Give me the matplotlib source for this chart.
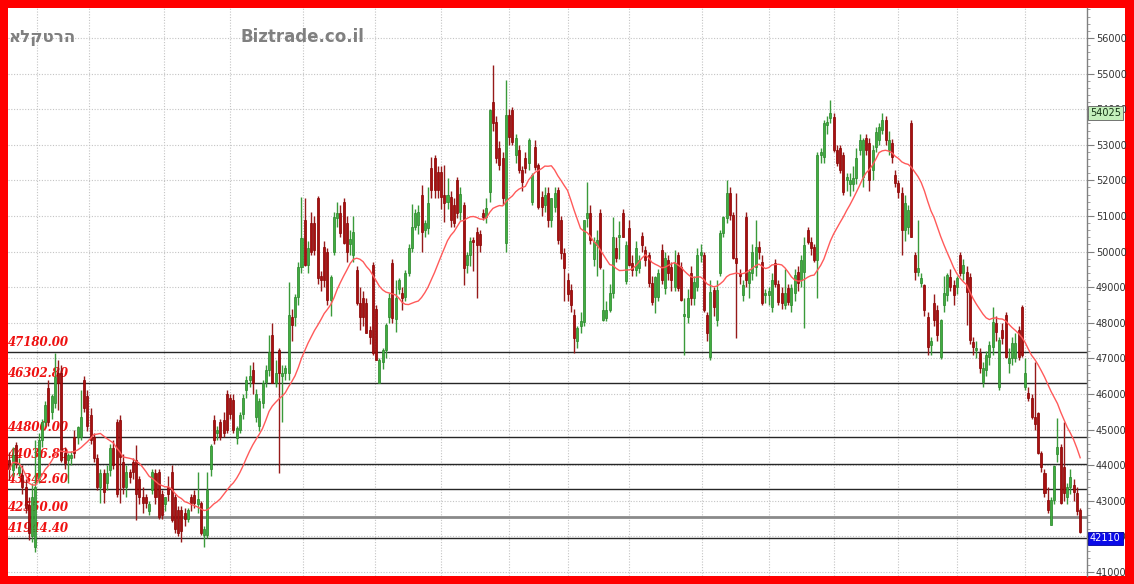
import numpy as np
import pandas as pd
import matplotlib
matplotlib.use('Agg')
import matplotlib.pyplot as plt
from matplotlib.patches import Rectangle
from matplotlib.ticker import MultipleLocator, FixedLocator

# ---------------- data ----------------
opens = [44140, 43870, 44570, 43780, 43720, 43390, 42880, 42000, 41700, 43600,
         44700, 45200, 46170, 45500, 45750, 46600, 46600, 44340, 44150, 44200,
         44780, 44780, 44800, 46400, 45950, 45400, 44780, 44200, 43390, 43780,
         43500, 43870, 44480, 45200, 45270, 44100, 43400, 43800, 44080, 44140,
         43600, 43100, 43100, 42700, 43300, 43780, 43800, 43200, 42900, 43400,
         43800, 43100, 42740, 42740, 42650, 42500, 43100, 43150, 42900, 42930,
         42050, 42050, 43900, 45270, 44900, 45200, 45270, 46000, 45900, 45830,
         44750, 45000, 45450, 46100, 46400, 46670, 45350, 45100, 45750, 46350,
         46670, 47650, 46300, 47230, 46500, 46600, 46600, 48160, 48160, 48720,
         49560, 50880, 49620, 50800, 50800, 51500, 49300, 50130, 49990, 48640,
         50000, 50940, 51080, 51400, 50800, 50200, 49900, 49480, 48550, 48700,
         48560, 47800, 49620, 48400, 46300, 46900, 47230, 48150, 49680, 48100,
         48950, 48830, 48720, 49400, 50100, 50700, 50750, 51600, 50600, 50660,
         52350, 52640, 52230, 52230, 51600, 51400, 51530, 51300, 52000, 51100,
         51300, 49630, 49910, 50330, 50540, 50500, 51080, 50970, 51670, 54200,
         53640, 52900, 52640, 50240, 53840, 53970, 52700, 52850, 52290, 52630,
         52490, 51400, 52940, 52430, 51530, 51300, 51650, 50900, 51250, 51730,
         50890, 49960, 49200, 48920, 48220, 47500, 47900, 48030, 50950, 51080,
         49780, 50180, 51080, 48080, 48130, 48360, 48850, 50100, 50400, 51080,
         49180, 50660, 49680, 49480, 49550, 50450, 50040, 49900, 49120, 48720,
         48720, 50040, 48980, 49760, 49570, 49000, 49900, 49570, 48200, 48160,
         49400, 48700, 49000, 49900, 49900, 48220, 47040, 48920, 48080, 49400,
         50520, 50950, 51640, 51030, 49820, 49400, 48780, 50970, 49120, 49400,
         49560, 50130, 49710, 48780, 48780, 48430, 49680, 49100, 48830, 48500,
         48980, 48500, 48840, 49430, 49200, 49430, 50600, 50270, 50130, 49760,
         52710, 52650, 53550, 53750, 53780, 52850, 52900, 52710, 52000, 51900,
         51900, 52070, 52850, 52100, 53190, 53050, 52290, 52940, 53130, 53420,
         53700, 52850, 53050, 52150, 51930, 51640, 50600, 50700, 53610, 49900,
         49420, 49120, 49060, 48160, 47370, 48560, 48360, 47040, 48500, 48780,
         49280, 49060, 49000, 49900, 49400, 49430, 49280, 47460, 47230, 47150,
         46330, 46670, 47050, 47320, 48000, 46190, 47800, 48220, 46870, 47000,
         47000, 47800, 48440, 46200, 46030, 45900, 45350, 45460, 44350, 43780,
         43020, 42320, 43020, 44300, 44520, 43950, 43100, 43400, 43440, 43220,
         42740]
highs = [44360, 44500, 44640, 44200, 44000, 43600, 43100, 43500, 44700, 44900,
         45300, 45800, 46400, 46000, 47150, 46950, 46800, 44500, 44350, 44400,
         45000, 45100, 46100, 46500, 46100, 45600, 44900, 44300, 43900, 43900,
         44000, 44600, 44700, 45300, 45400, 44300, 44000, 43900, 44200, 44560,
         43700, 43400, 43200, 43000, 43900, 43900, 43900, 43300, 43100, 43700,
         44000, 43200, 42850, 42850, 42800, 42800, 43200, 43300, 43800, 43000,
         42300, 43800, 44600, 45400, 45100, 45300, 45500, 46100, 46000, 46000,
         45100, 45500, 46000, 46500, 46800, 46900, 46150, 45900, 46400, 46800,
         47650, 48000, 46950, 47300, 46800, 46800, 49150, 48400, 48800, 49700,
         51530, 51500, 50300, 51100, 51000, 51560, 49450, 50300, 50100, 49350,
         51100, 51400, 51300, 51500, 51000, 50600, 51000, 49600, 49000, 48900,
         48700, 47900, 49700, 48500, 47000, 47300, 48000, 48850, 49800, 49200,
         49250, 49000, 49480, 50200, 51350, 51200, 51300, 51870, 50900, 51800,
         52650, 52700, 52400, 52400, 52430, 52070, 51700, 51500, 52100, 51800,
         51400, 50000, 50400, 50400, 50700, 50600, 51200, 51500, 54000, 55240,
         53800, 53100, 52800, 54820, 54000, 54050, 53300, 53000, 52400, 52800,
         53200, 52200, 53130, 52500, 51700, 51800, 51800, 51500, 51800, 51800,
         51000, 50100, 49400, 49100, 48400, 47900, 48300, 50900, 51950, 51300,
         50400, 50600, 51200, 49500, 48600, 49100, 50980, 50400, 50850, 51200,
         50300, 50900, 49900, 50300, 49900, 50550, 50150, 50000, 49300, 49300,
         49500, 50200, 50000, 49900, 49700, 50050, 50000, 49700, 48700, 48950,
         49600, 49300, 50100, 50200, 50000, 48300, 49200, 49000, 49200, 50600,
         51000, 52000, 51800, 51100, 51640, 49500, 49200, 51100, 49500, 50200,
         50900, 50300, 49900, 48950, 49000, 49400, 49800, 49200, 49000, 49500,
         49100, 49100, 49500, 49600, 49900, 50400, 50700, 50400, 50200, 52800,
         52900, 53700, 53800, 54260, 53900, 53000, 53000, 52800, 52200, 52200,
         52400, 52900, 53300, 53200, 53300, 53200, 53000, 53500, 53600, 53900,
         53800, 53400, 53150, 52300, 52000, 51800, 51600, 51300, 53700, 50000,
         50900, 49400, 49100, 48300, 47600, 48800, 48500, 48100, 49300, 49400,
         49500, 49200, 49300, 50000, 49800, 49600, 49400, 47600, 47500, 47300,
         46900, 47200, 47500, 48440, 48200, 47600, 48000, 48300, 47300, 47600,
         47700, 47900, 48500, 47000, 46200, 46000, 46900, 45500, 44400, 43900,
         43400, 43100, 44000, 45330, 44600, 45200, 43500, 43900, 43600, 43400,
         42800]
lows = [43580, 43700, 43930, 43700, 43200, 42650, 41900, 41850, 41560, 43500,
        44500, 45100, 45100, 45300, 45600, 45550, 44100, 43900, 43500, 44000,
        44200, 44600, 44700, 45500, 44950, 44600, 44100, 43300, 42950, 42950,
        43300, 43700, 43900, 43100, 42950, 43200, 43100, 43500, 43600, 42460,
        42900, 42650, 42800, 42600, 43200, 42900, 42500, 42500, 42700, 43000,
        42400, 42100, 42000, 41850, 42300, 42400, 42700, 42800, 42650, 42050,
        41700, 41950, 43700, 44600, 44700, 44700, 44800, 44900, 45300, 44900,
        44600, 44900, 45300, 45900, 46200, 46000, 45200, 44950, 45600, 46200,
        46500, 46300, 46200, 43780, 45200, 46400, 46400, 47500, 47900, 48500,
        49400, 49600, 49400, 49900, 49900, 49100, 48900, 49000, 48500, 48200,
        49900, 50700, 50400, 50200, 49700, 49900, 49700, 48500, 47800, 47900,
        47700, 47400, 47100, 46950, 46300, 46700, 47000, 48000, 48000, 47750,
        48800, 48350, 48600, 49300, 50000, 50600, 50500, 50000, 50400, 50500,
        51500, 51500, 51500, 51200, 50830, 51200, 50700, 50700, 50950, 50900,
        49050, 49400, 49600, 49450, 48700, 50000, 50900, 50800, 51400, 53400,
        52500, 52300, 51300, 50000, 53000, 53000, 52500, 52200, 51700, 52200,
        52300, 51300, 52300, 51200, 51000, 51100, 50700, 50700, 51100, 50200,
        49800, 48600, 48600, 48300, 47150, 47300, 47700, 47900, 50700, 50200,
        49600, 49300, 49500, 48050, 48050, 48300, 48700, 49700, 49800, 50400,
        49100, 49600, 49300, 49300, 49400, 50000, 49600, 49000, 48500, 48270,
        48600, 49100, 48800, 49200, 48900, 48900, 48900, 48600, 47100, 48000,
        48500, 48500, 48900, 49700, 48300, 47500, 46950, 48200, 47900, 49300,
        50400, 50800, 50900, 49800, 47560, 49100, 48600, 49000, 48700, 49200,
        49300, 49800, 48500, 48550, 48500, 48300, 49000, 48500, 48400, 48400,
        48500, 48300, 48600, 48900, 49000, 47850, 50200, 49900, 49700, 48700,
        52500, 52500, 53300, 53600, 52800, 52400, 52200, 51600, 51700, 51550,
        51700, 51900, 52700, 51800, 52700, 51700, 52000, 52800, 53000, 53300,
        53000, 52700, 52500, 51800, 51500, 49900, 50300, 50500, 50400, 49200,
        49300, 49000, 48200, 47100, 47100, 47900, 47500, 46970, 48300, 48600,
        48900, 48500, 48800, 49300, 49200, 47950, 47400, 47100, 47000, 46600,
        46200, 46500, 46800, 47100, 47500, 46100, 47400, 47000, 46600, 46800,
        46900, 46950, 47050, 46100, 45800, 45300, 45000, 44300, 43800, 43100,
        42650, 42320, 42900, 44100, 42900, 43000, 42900, 43200, 43000, 42600,
        42100]
closes = [43880, 44280, 44060, 43950, 43390, 42800, 42100, 43100, 43400, 44700,
          45200, 45700, 45220, 45950, 46480, 46300, 44150, 44060, 44280, 44280,
          44340, 45060, 45350, 45600, 45090, 44700, 44200, 43390, 43780, 43250,
          43780, 44480, 44000, 43200, 44230, 43400, 43800, 43660, 43800, 43200,
          43100, 42950, 42950, 42900, 43800, 43100, 42550, 42600, 43100, 43200,
          42460, 42200, 42100, 42150, 42500, 42740, 42930, 42930, 43050, 42100,
          42200, 43300, 44550, 44700, 45000, 44800, 44900, 45000, 45450, 45000,
          45050, 45400, 45900, 46400, 46500, 46300, 46000, 45800, 46300, 46670,
          47180, 46300, 46600, 46600, 46600, 46730, 48220, 47930, 48720, 49560,
          50380, 49620, 50100, 50000, 50050, 49260, 49200, 49200, 48640, 49280,
          50970, 51080, 50520, 50240, 50000, 50350, 50550, 48560, 48150, 48160,
          47720, 47600, 47150, 46960, 46950, 47230, 47930, 48700, 48130, 48700,
          49200, 48700, 49400, 50100, 50700, 51080, 51100, 50550, 50800, 51370,
          51730, 51730, 51730, 51530, 51370, 51600, 50890, 50800, 51080, 51630,
          49540, 49910, 50300, 50270, 50180, 50180, 50970, 51230, 53980, 53610,
          52630, 52430, 51500, 53840, 53220, 53080, 53190, 52290, 51950, 52350,
          53130, 52150, 52370, 51250, 51250, 51600, 50890, 51500, 51650, 50330,
          49960, 49540, 48800, 48500, 47580, 47850, 48050, 50880, 51080, 50330,
          50280, 50330, 49570, 48360, 48360, 48850, 50400, 49820, 50470, 50400,
          50180, 49620, 49480, 50100, 49760, 50180, 49760, 49120, 48580, 49290,
          49400, 49200, 49820, 49400, 49200, 49680, 48980, 48640, 48250, 48700,
          48700, 49140, 49900, 50000, 48360, 47700, 48870, 48430, 48920, 50520,
          50970, 51640, 51030, 49820, 49680, 49300, 49060, 49200, 49420, 50000,
          50130, 50000, 48560, 48850, 48900, 49200, 49100, 48580, 48560, 48850,
          48580, 48980, 49340, 49120, 49760, 50180, 50270, 50100, 49760, 52710,
          52800, 53600, 53640, 53900, 52850, 52500, 52300, 51670, 52100, 52000,
          52070, 52630, 53130, 53130, 52850, 52010, 52850, 53360, 53500, 53700,
          53130, 53130, 52660, 51930, 51670, 50600, 51360, 51170, 50410, 49430,
          49540, 49260, 48360, 47320, 47500, 48080, 47650, 48080, 48840, 49340,
          49000, 48780, 49260, 49400, 49630, 48860, 47520, 47320, 47300, 46730,
          46730, 47100, 47370, 48020, 47740, 47520, 47570, 47040, 47000, 47430,
          47430, 47040, 47100, 46590, 45880, 45350, 45150, 44350, 43950, 43220,
          42740, 43020, 43970, 44520, 42950, 43220, 43400, 43670, 43250, 42700,
          42110]

levels = [47180.00, 46302.80, 44800.00, 44036.80, 43342.60, 42550.00, 41944.40]
level_labels = ["47180.00", "46302.80", "44800.00", "44036.80",
                "43342.60", "42550.00", "41944.40"]
month_breaks = [8.5, 24.5, 47.5, 68, 90.5, 112.5, 133, 154, 172, 191,
                213.5, 234, 254, 274, 292, 313]
title_he = "אלקטרה"
site_name = "Biztrade.co.il"
marker_value = 54025
last_value = 42110
ma_window = 20

# ---------------- figure ----------------
W, H = 1134, 584
fig = plt.figure(figsize=(W / 100, H / 100), dpi=100)
fig.patch.set_facecolor('#ff0000')
fig.add_artist(Rectangle((8 / W, 8 / H), (1125 - 8) / W, (576 - 8) / H,
                         transform=fig.transFigure, facecolor='white',
                         edgecolor='none', zorder=-10))

ax = fig.add_axes([8 / W, 8 / H, (1087 - 8) / W, (576 - 8) / H])
ax.set_facecolor('white')

O = np.array(opens, dtype=float)
Hh = np.array(highs, dtype=float)
L = np.array(lows, dtype=float)
C = np.array(closes, dtype=float)
n = len(C)
x = np.arange(n)
up = C >= O

body_fc = np.where(up, '#40ad40', '#a81010')
body_ec = np.where(up, '#2a862a', '#880000')
wick_c = np.where(up, '#3a9a3a', '#961a1a')

ax.vlines(x, L, Hh, colors=wick_c, linewidth=1.0, zorder=3)
heights = np.maximum(np.abs(C - O), 20)
ax.bar(x, heights, bottom=np.minimum(O, C), width=0.62,
       color=body_fc, edgecolor=body_ec, linewidth=0.5, zorder=4)

ma = pd.Series(C).rolling(ma_window, min_periods=1).mean()
ax.plot(x, ma, color='#ff5a5a', linewidth=1.0, zorder=5)

# level lines & labels
for lv, lbl in zip(levels, level_labels):
    if lbl == "42550.00":
        ax.axhline(lv, color='#8a8a8a', linewidth=2.0, zorder=2)
    else:
        ax.axhline(lv, color='#262626', linewidth=1.0, zorder=2)
    ax.annotate(lbl, xy=(0, lv), xycoords=ax.get_yaxis_transform(),
                xytext=(0, 3), textcoords='offset pixels',
                ha='left', va='bottom', color='#ee1111', fontsize=8.5,
                fontstyle='italic', fontweight='bold', family='DejaVu Serif',
                zorder=2.5)

# axes limits and ticks
ax.set_xlim(-0.46, 332.1)
ax.set_ylim(40887, 56842)
ax.yaxis.tick_right()
ax.yaxis.set_major_locator(MultipleLocator(1000))
ax.yaxis.set_minor_locator(MultipleLocator(200))
ax.tick_params(axis='y', which='major', length=5, width=0.8, color='#808080',
               labelsize=7, labelcolor='#333333', pad=1.5)
ax.tick_params(axis='y', which='minor', length=2.5, width=0.6, color='#909090')
ax.xaxis.set_major_locator(FixedLocator(month_breaks))
ax.tick_params(axis='x', length=0, labelbottom=False)
ax.grid(True, which='major', color='#c4c4c4', linestyle=(0, (1, 1.5)),
        linewidth=0.8, zorder=0)
ax.set_axisbelow(True)
for s in ['left', 'top', 'bottom']:
    ax.spines[s].set_visible(False)
ax.spines['right'].set_color('#808080')
ax.spines['right'].set_linewidth(1.0)

# price boxes on the axis
ax.annotate(str(marker_value), xy=(1.0, marker_value),
            xycoords=ax.get_yaxis_transform(), xytext=(3, 0),
            textcoords='offset pixels', ha='left', va='top', fontsize=7,
            color='#143214',
            bbox=dict(boxstyle='square,pad=0.2', fc='#c4f0bc', ec='#606060', lw=0.6),
            annotation_clip=False, zorder=10)
ax.annotate(str(last_value), xy=(1.0, last_value),
            xycoords=ax.get_yaxis_transform(), xytext=(3, -1),
            textcoords='offset pixels', ha='left', va='top', fontsize=7,
            color='white',
            bbox=dict(boxstyle='square,pad=0.2', fc='#0a0ae8', ec='#0000a0', lw=0.6),
            annotation_clip=False, zorder=10)

# titles
fig.text(9 / W, 1 - 42 / H, title_he, ha='left', va='baseline',
         fontsize=12, fontweight='bold', color='#808080', family=['DejaVu Sans'])
fig.text(240 / W, 1 - 42 / H, site_name, ha='left', va='baseline',
         fontsize=12, fontweight='bold', color='#808080', family=['DejaVu Sans'])

fig.savefig('out.png', dpi=100, facecolor=fig.get_facecolor())
